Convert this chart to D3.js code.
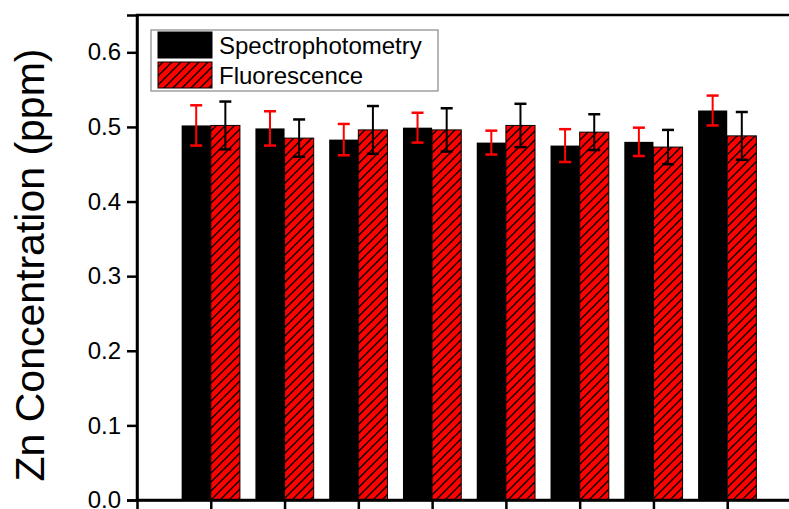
<!DOCTYPE html>
<html>
<head>
<meta charset="utf-8">
<script src="https://cdn.jsdelivr.net/npm/d3@7"></script>
<style>
  body { margin: 0; background: #fff; }
  svg { display: block; font-family: "Liberation Sans", Arial, sans-serif; }
</style>
</head>
<body>
<svg id="chart" width="789" height="509"></svg>
<script>
// sample positions on the x axis (labels are cut off in the original)
const samples = [1, 2, 3, 4, 5, 6, 7, 8];
const spectro = [0.502, 0.498, 0.483, 0.499, 0.479, 0.475, 0.480, 0.522];
const spectroErr = [0.027, 0.023, 0.021, 0.020, 0.016, 0.022, 0.019, 0.020];
const fluo = [0.502, 0.485, 0.496, 0.496, 0.502, 0.493, 0.473, 0.488];
const fluoErr = [0.032, 0.025, 0.032, 0.029, 0.029, 0.024, 0.023, 0.032];
const yTicks = [0.0, 0.1, 0.2, 0.3, 0.4, 0.5, 0.6];
const seriesNames = ["Spectrophotometry", "Fluorescence"];

const svg = d3.select("#chart");
const plotLeft = 137, plotTop = 15, plotBottom = 500, plotRight = 801;
const red = "#ff0000";

const x = d3.scaleLinear().domain([0, 9]).range([plotLeft, plotRight]);
const y = d3.scaleLinear().domain([0, 0.65]).range([plotBottom, plotTop]);
const barW = x(0.395) - x(0);

// hatch pattern for the fluorescence bars
const defs = svg.append("defs");
const pat = defs.append("pattern")
    .attr("id", "hatch")
    .attr("patternUnits", "userSpaceOnUse")
    .attr("width", 9)
    .attr("height", 9);
pat.append("rect").attr("width", 9).attr("height", 9).attr("fill", red);
pat.append("path")
    .attr("d", "M0,9 L9,0 M-2,2 L2,-2 M7,11 L11,7")
    .attr("stroke", "#000")
    .attr("stroke-width", 1.4);

const bars = svg.append("g");

// spectrophotometry bars (black)
bars.selectAll("rect.spec")
    .data(samples)
    .join("rect")
    .attr("class", "spec")
    .attr("x", d => x(d) - barW)
    .attr("y", (d, i) => y(spectro[i]))
    .attr("width", barW)
    .attr("height", (d, i) => y(0) - y(spectro[i]))
    .attr("fill", "#000");

// fluorescence bars (red, hatched)
bars.selectAll("rect.fluo")
    .data(samples)
    .join("rect")
    .attr("class", "fluo")
    .attr("x", d => x(d))
    .attr("y", (d, i) => y(fluo[i]))
    .attr("width", barW)
    .attr("height", (d, i) => y(0) - y(fluo[i]))
    .attr("fill", "url(#hatch)")
    .attr("stroke", "#000")
    .attr("stroke-width", 1);

const capW = 6;
const drawErr = (vals, errs, offset, color) => {
    const g = svg.append("g")
        .attr("stroke", color)
        .attr("stroke-width", 2)
        .attr("fill", "none");
    samples.forEach((s, i) => {
        const cx = x(s) + offset;
        const y1 = y(vals[i] + errs[i]), y2 = y(vals[i] - errs[i]);
        g.append("line").attr("x1", cx).attr("x2", cx).attr("y1", y1).attr("y2", y2);
        g.append("line").attr("x1", cx - capW).attr("x2", cx + capW).attr("y1", y1).attr("y2", y1).attr("stroke-width", 2.5);
        g.append("line").attr("x1", cx - capW).attr("x2", cx + capW).attr("y1", y2).attr("y2", y2).attr("stroke-width", 2.5);
    });
};
drawErr(spectro, spectroErr, -barW / 2, red);
drawErr(fluo, fluoErr, barW / 2, "#000");

// frame
svg.append("rect")
    .attr("x", plotLeft)
    .attr("y", plotTop)
    .attr("width", plotRight - plotLeft)
    .attr("height", plotBottom - plotTop)
    .attr("fill", "none")
    .attr("stroke", "#000")
    .attr("stroke-width", 2.5);

// y axis
const yAxis = svg.append("g")
    .attr("transform", `translate(${plotLeft},0)`)
    .call(d3.axisLeft(y).tickValues(yTicks).tickFormat(d3.format(".1f")).tickSize(10).tickPadding(6));
yAxis.select(".domain").attr("stroke-width", 2.5);
yAxis.selectAll(".tick line").attr("stroke-width", 2.5);
yAxis.selectAll("text").attr("font-size", 24).attr("fill", "#000")
    .attr("font-family", "Liberation Sans, Arial, sans-serif");

// x axis (labels fall outside the picture)
const xAxis = svg.append("g")
    .attr("transform", `translate(0,${plotBottom})`)
    .call(d3.axisBottom(x).tickValues(samples).tickFormat("").tickSize(10));
xAxis.select(".domain").attr("stroke-width", 2.5);
xAxis.selectAll(".tick line").attr("stroke-width", 2.5);

// y title
svg.append("text")
    .attr("transform", "translate(44,265) rotate(-90)")
    .attr("text-anchor", "middle")
    .attr("font-size", 41)
    .attr("fill", "#000")
    .text("Zn Concentration (ppm)");

// legend
const legend = svg.append("g");
legend.append("rect")
    .attr("x", 151).attr("y", 30)
    .attr("width", 287).attr("height", 61)
    .attr("fill", "#fff")
    .attr("stroke", "#888")
    .attr("stroke-width", 1.2);
const fills = ["#000", "url(#hatch)"];
legend.selectAll("rect.sw")
    .data(seriesNames)
    .join("rect")
    .attr("class", "sw")
    .attr("x", 158)
    .attr("y", (d, i) => 32 + i * 30)
    .attr("width", 54)
    .attr("height", 26)
    .attr("fill", (d, i) => fills[i])
    .attr("stroke", "#000")
    .attr("stroke-width", 1);
legend.selectAll("text.lab")
    .data(seriesNames)
    .join("text")
    .attr("class", "lab")
    .attr("x", 219)
    .attr("y", (d, i) => 54 + i * 30)
    .attr("font-size", 24)
    .attr("fill", "#000")
    .text(d => d);
</script>
</body>
</html>
